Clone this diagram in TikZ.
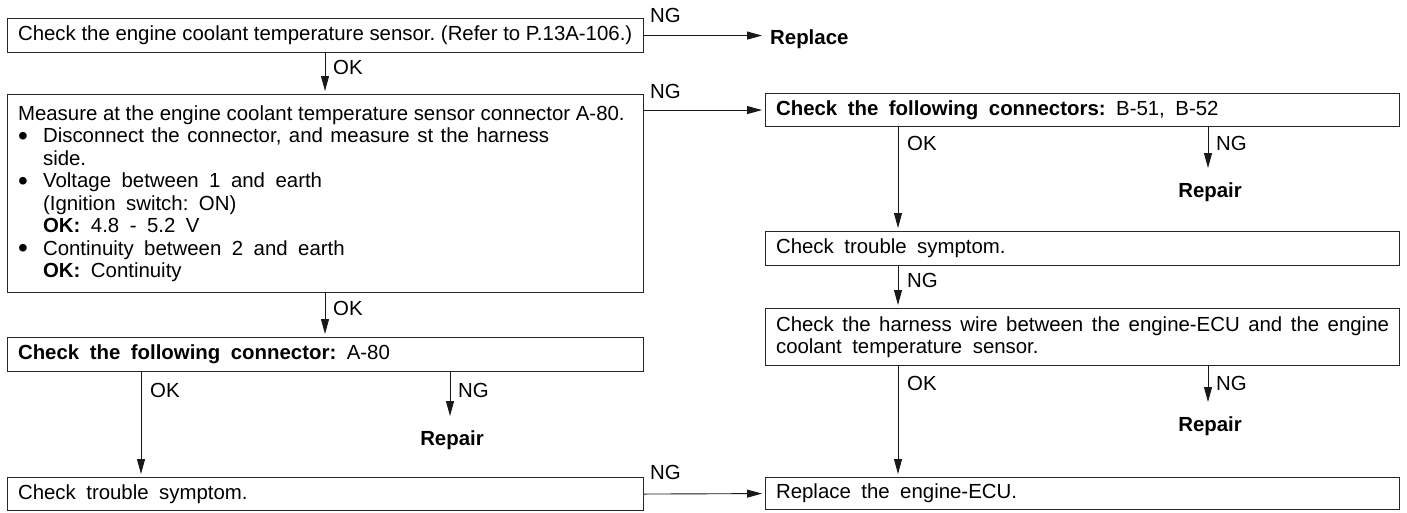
\documentclass[tikz,border=0pt]{standalone}
\usepackage{fontspec}
\setmainfont{Liberation Sans}
\usetikzlibrary{arrows.meta}
\frenchspacing
\newcommand{\bigdot}{\makebox[25pt][l]{\raisebox{-2.5pt}{\fontsize{28}{22.5}\selectfont\textbullet}}}
\begin{document}
\begin{tikzpicture}[x=1pt,y=-1pt,
  font=\fontsize{20.4}{22.5}\selectfont,
  every node/.append style={execute at begin node={\spaceskip=10.5pt plus 3pt minus 1pt}},
  box/.style={draw=black!85, line width=1.1pt, anchor=north west, inner xsep=10.5pt, inner ysep=0pt, align=left},
  lbox/.style={box, text width=615pt, minimum width=636pt},
  rbox/.style={box, text width=613pt, minimum width=634pt},
  lbl/.style={inner sep=0pt, anchor=west},
  rep/.style={inner sep=0pt, anchor=base, font=\fontsize{20.4}{22.5}\selectfont\bfseries},
  arr/.style={-{Triangle[length=15pt,width=8pt]}, line width=0.9pt, draw=black!90, shorten >=3pt},
]
\useasboundingbox (0,0) rectangle (1407,512);

% column coordinates
\coordinate (cL1) at (325,0);
\coordinate (cL2) at (141,0);
\coordinate (cL3) at (450,0);
\coordinate (cR1) at (898,0);
\coordinate (cR2) at (1208,0);

% left column
\node[lbox, minimum height=34pt] (b1) at (7,18) {\spaceskip=0pt Check the engine coolant temperature sensor. (Refer to P.13A-106.)};
\node[lbox, minimum height=198pt] (b2) at (7,94) {%
{\spaceskip=0pt Measure at the engine coolant temperature sensor connector A-80.}\\
\bigdot{\spaceskip=7.5pt Disconnect the connector, and measure st the harness}\\
\hspace*{25pt}side.\\
\bigdot Voltage between 1 and earth\\
\hspace*{25pt}(Ignition switch: ON)\\
\hspace*{25pt}\textbf{OK:}\ 4.8 - 5.2 V\\
\bigdot Continuity between 2 and earth\\
\hspace*{25pt}\textbf{OK:}\ Continuity};
\node[lbox, minimum height=34pt] (b3) at (7,337) {\textbf{Check the following connector:} A-80};
\node[lbox, minimum height=33pt] (b4) at (7,477) {Check trouble symptom.};

% right column
\node[rbox, minimum height=33pt] (r1) at (765,93) {\textbf{Check the following connectors:} B-51, B-52};
\node[rbox, minimum height=34pt] (r2) at (765,231) {Check trouble symptom.};
\node[rbox, minimum height=57pt, align=justify] (r3) at (765,308) {\spaceskip=10.5pt plus 5pt minus 3pt Check the harness wire between the engine-ECU and the engine coolant temperature sensor.};
\node[rbox, minimum height=32pt] (r4) at (765,477) {Replace the engine-ECU.};

% terminal texts
\node[inner sep=0pt, anchor=base west, font=\fontsize{20.4}{22.5}\selectfont\bfseries] (rep0) at (770,44) {Replace};
\node[rep] (rp1) at (452,445) {Repair};
\node[rep] (rp2) at (1210,197) {Repair};
\node[rep] (rp3) at (1210,431) {Repair};

% connectors
\draw[arr, shorten >=8pt] (b1.east) -- (b1.east -| rep0.west);
\node[lbl] at (650,15) {NG};
\draw[arr] (b1.south -| cL1) -- (b2.north -| cL1);
\node[lbl] at (333,67) {OK};

\draw[arr] (b2.east |- r1.west) -- (r1.west);
\node[lbl] at (650,91) {NG};
\draw[arr] (b2.south -| cL1) -- (b3.north -| cL1);
\node[lbl] at (333,308) {OK};

\draw[arr] (b3.south -| cL2) -- (b4.north -| cL2);
\node[lbl] at (150,390) {OK};
\draw[arr, shorten >=14pt] (b3.south -| cL3) -- (rp1.north -| cL3);
\node[lbl] at (458,390) {NG};

\draw[arr] (b4.east) -- (r4.west);
\node[lbl] at (650,472) {NG};

\draw[arr] (r1.south -| cR1) -- (r2.north -| cR1);
\node[lbl] at (907,143) {OK};
\draw[arr, shorten >=14pt] (r1.south -| cR2) -- (rp2.north -| cR2);
\node[lbl] at (1216,143) {NG};

\draw[arr] (r2.south -| cR1) -- (r3.north -| cR1);
\node[lbl] at (907,280) {NG};

\draw[arr] (r3.south -| cR1) -- (r4.north -| cR1);
\node[lbl] at (907,383) {OK};
\draw[arr, shorten >=14pt] (r3.south -| cR2) -- (rp3.north -| cR2);
\node[lbl] at (1216,383) {NG};
\end{tikzpicture}
\end{document}
